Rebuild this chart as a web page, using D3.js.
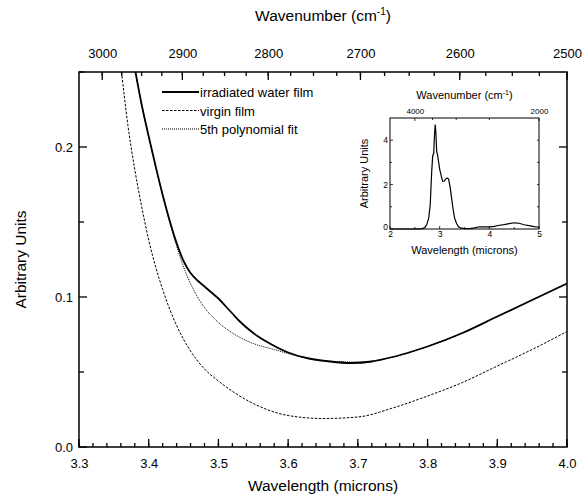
<!DOCTYPE html>
<html lang="en">
<head>
<meta charset="UTF-8">
<title>Irradiated water film</title>
<script src="https://cdn.jsdelivr.net/npm/d3@7"></script>
<style>
  body { margin: 0; background: #fff; }
  text { font-family: "Liberation Sans", Arial, sans-serif; fill: #000; }
</style>
</head>
<body>
<div id="container"></div>
<script>
  var width = 587, height = 500;

  // main chart data (wavelength in microns, arbitrary units)
  var irrX = [3.381, 3.39, 3.40, 3.41, 3.42, 3.43, 3.44, 3.45, 3.46, 3.47, 3.48, 3.49, 3.50, 3.51, 3.52, 3.53, 3.55, 3.57, 3.60, 3.63, 3.66, 3.69, 3.72, 3.75, 3.78, 3.80, 3.85, 3.90, 3.95, 4.0];
  var irrY = [0.25, 0.228, 0.207, 0.187, 0.168, 0.151, 0.136, 0.124, 0.116, 0.111, 0.107, 0.103, 0.099, 0.094, 0.089, 0.084, 0.076, 0.070, 0.063, 0.059, 0.057, 0.056, 0.057, 0.060, 0.064, 0.067, 0.076, 0.087, 0.098, 0.109];

  var virX = [3.361, 3.37, 3.38, 3.39, 3.40, 3.41, 3.42, 3.44, 3.46, 3.48, 3.50, 3.55, 3.60, 3.65, 3.70, 3.75, 3.80, 3.85, 3.90, 3.95, 4.0];
  var virY = [0.25, 0.215, 0.185, 0.160, 0.138, 0.120, 0.105, 0.081, 0.064, 0.052, 0.044, 0.029, 0.021, 0.019, 0.020, 0.026, 0.034, 0.043, 0.054, 0.065, 0.077];

  var fitX = [3.381, 3.39, 3.40, 3.41, 3.42, 3.43, 3.44, 3.45, 3.46, 3.47, 3.48, 3.50, 3.52, 3.55, 3.58, 3.61, 3.64, 3.67, 3.70, 3.75, 3.80, 3.85, 3.90, 3.95, 4.0];
  var fitY = [0.25, 0.228, 0.207, 0.187, 0.168, 0.150, 0.134, 0.120, 0.109, 0.100, 0.093, 0.083, 0.076, 0.069, 0.065, 0.061, 0.058, 0.057, 0.0565, 0.060, 0.067, 0.076, 0.087, 0.098, 0.109];

  var seriesNames = ["irradiated water film", "virgin film", "5th polynomial fit"];
  var xTicks = [3.3, 3.4, 3.5, 3.6, 3.7, 3.8, 3.9, 4.0];
  var yTicks = [0.0, 0.1, 0.2];
  var topTicks = [3000, 2900, 2800, 2700, 2600, 2500];

  // inset data (whole spectrum)
  var insX = [2.0, 2.5, 2.65, 2.7, 2.74, 2.78, 2.81, 2.84, 2.86, 2.88, 2.895, 2.91, 2.925, 2.94, 2.96, 2.98, 3.0, 3.03, 3.06, 3.09, 3.12, 3.15, 3.18, 3.21, 3.24, 3.27, 3.30, 3.34, 3.38, 3.42, 3.5, 3.6, 3.7, 3.8, 3.9, 4.0, 4.1, 4.2, 4.3, 4.4, 4.5, 4.6, 4.7, 4.8, 4.9, 5.0];
  var insY = [0, 0, 0.02, 0.06, 0.2, 0.5, 1.1, 2.6, 3.3, 3.4, 4.2, 4.7, 4.3, 3.5, 3.3, 3.0, 2.7, 2.4, 2.15, 2.15, 2.25, 2.3, 2.25, 1.9, 1.4, 0.9, 0.5, 0.25, 0.1, 0.05, 0.02, 0.02, 0.05, 0.1, 0.1, 0.1, 0.12, 0.17, 0.2, 0.24, 0.28, 0.26, 0.19, 0.15, 0.11, 0.08];
  var insXTicks = [2, 3, 4, 5];
  var insYTicks = [0, 2, 4];
  var insTopTicks = [4000, 2000];

  var svg = d3.select("#container").append("svg")
      .attr("width", width)
      .attr("height", height);

  var L = 79, R = 567, T = 72, B = 447;

  var x = d3.scaleLinear().domain([3.3, 4.0]).range([L, R]);
  var y = d3.scaleLinear().domain([0, 0.25]).range([B, T]);

  svg.append("clipPath").attr("id", "clip")
    .append("rect").attr("x", L).attr("y", T).attr("width", R - L).attr("height", B - T);

  // tick marks drawn as plain lines from the scales
  function hTicks(g, vals, scale, y0, len, sw) {
    g.selectAll(null).data(vals).enter().append("line")
      .attr("x1", d => scale(d)).attr("x2", d => scale(d))
      .attr("y1", y0).attr("y2", y0 + len)
      .attr("stroke", "#000").attr("stroke-width", sw);
  }
  function vTicks(g, vals, scale, x0, len, sw) {
    g.selectAll(null).data(vals).enter().append("line")
      .attr("y1", d => scale(d)).attr("y2", d => scale(d))
      .attr("x1", x0).attr("x2", x0 + len)
      .attr("stroke", "#000").attr("stroke-width", sw);
  }

  var ticksG = svg.append("g");
  var xMinor = d3.range(3.3, 4.0001, 0.02);
  hTicks(ticksG, xMinor, x, B, -4, 1.3);
  hTicks(ticksG, xTicks, x, B, -8, 1.3);
  vTicks(ticksG, [0.05, 0.15, 0.25], y, L, 5, 1.3);
  vTicks(ticksG, yTicks, y, L, 8, 1.3);
  vTicks(ticksG, [0.05, 0.15], y, R, -5, 1.3);
  vTicks(ticksG, [0.1, 0.2], y, R, -8, 1.3);
  var topMinor = d3.range(2500, 3001, 25).map(w => 10000 / w);
  hTicks(ticksG, topMinor, x, T, 4, 1.3);
  hTicks(ticksG, topTicks.map(w => 10000 / w), x, T, 8, 1.3);

  // tick labels via axes
  svg.append("g").attr("transform", "translate(0," + B + ")")
      .call(d3.axisBottom(x).tickValues(xTicks).tickSize(0).tickPadding(12).tickFormat(d3.format(".1f")))
      .call(g => g.select(".domain").remove())
      .call(g => g.selectAll("text").attr("font-size", 13));
  svg.append("g").attr("transform", "translate(" + L + ",0)")
      .call(d3.axisLeft(y).tickValues(yTicks).tickSize(0).tickPadding(6).tickFormat(d3.format(".1f")))
      .call(g => g.select(".domain").remove())
      .call(g => g.selectAll("text").attr("font-size", 13));
  svg.append("g").attr("transform", "translate(0," + T + ")")
      .call(d3.axisTop(x).tickValues(topTicks.map(w => 10000 / w)).tickSize(0).tickPadding(14)
        .tickFormat(d => Math.round(10000 / d)))
      .call(g => g.select(".domain").remove())
      .call(g => g.selectAll("text").attr("font-size", 13));

  svg.append("rect")
      .attr("x", L).attr("y", T).attr("width", R - L).attr("height", B - T)
      .attr("fill", "none").attr("stroke", "#000").attr("stroke-width", 1.5);

  // axis titles
  svg.append("text").attr("x", (L + R) / 2).attr("y", 491)
      .attr("text-anchor", "middle").attr("font-size", 15.5).text("Wavelength (microns)");
  svg.append("text").attr("transform", "translate(26," + ((T + B) / 2) + ") rotate(-90)")
      .attr("text-anchor", "middle").attr("font-size", 15.5).text("Arbitrary Units");
  var tt = svg.append("text").attr("x", (L + R) / 2).attr("y", 21)
      .attr("text-anchor", "middle").attr("font-size", 15.5);
  tt.append("tspan").text("Wavenumber (cm");
  tt.append("tspan").attr("font-size", 10).attr("dy", -6).text("-1");
  tt.append("tspan").attr("dy", 6).text(")");

  // curves
  var line = d3.line().x(d => x(d[0])).y(d => y(d[1])).curve(d3.curveMonotoneX);
  var plot = svg.append("g").attr("clip-path", "url(#clip)");
  plot.append("path").datum(d3.zip(virX, virY)).attr("d", line)
      .attr("fill", "none").attr("stroke", "#000").attr("stroke-width", 1).attr("stroke-dasharray", "2.5,1.5");
  plot.append("path").datum(d3.zip(fitX, fitY)).attr("d", line)
      .attr("fill", "none").attr("stroke", "#000").attr("stroke-width", 1).attr("stroke-dasharray", "1,1");
  plot.append("path").datum(d3.zip(irrX, irrY)).attr("d", line)
      .attr("fill", "none").attr("stroke", "#000").attr("stroke-width", 1.8);

  // legend
  var dashes = [null, "2.5,1.5", "1,1"];
  var widths = [1.8, 1, 1];
  var leg = svg.append("g").attr("transform", "translate(162,92)");
  seriesNames.forEach(function(n, i) {
    leg.append("line").attr("x1", 0).attr("x2", 37).attr("y1", i * 18.5).attr("y2", i * 18.5)
        .attr("stroke", "#000").attr("stroke-width", widths[i]).attr("stroke-dasharray", dashes[i]);
    leg.append("text").attr("x", 38).attr("y", i * 18.5 + 5).attr("font-size", 13).text(n);
  });

  // inset
  var iL = 390, iR = 539, iT = 118, iB = 229;
  var ix = d3.scaleLinear().domain([2, 5]).range([iL, iR]);
  var iy = d3.scaleLinear().domain([0, 5]).range([iB, iT]);
  var ins = svg.append("g");

  hTicks(ins, [2.5, 3.5, 4.5], ix, iB, -2, 0.8);
  hTicks(ins, insXTicks, ix, iB, -3, 0.8);
  vTicks(ins, [1, 3], iy, iL, 2, 0.8);
  vTicks(ins, insYTicks, iy, iL, 3, 0.8);
  vTicks(ins, [1, 2, 3, 4], iy, iR, -2, 0.8);
  hTicks(ins, [3500, 3000, 2500].map(w => 10000 / w), ix, iT, 2, 0.8);
  hTicks(ins, insTopTicks.map(w => 10000 / w), ix, iT, 3, 0.8);

  ins.append("g").attr("transform", "translate(0," + iB + ")")
      .call(d3.axisBottom(ix).tickValues(insXTicks).tickSize(0).tickPadding(2).tickFormat(d3.format("d")))
      .call(g => g.select(".domain").remove())
      .call(g => g.selectAll("text").attr("font-size", 8.5));
  ins.append("g").attr("transform", "translate(" + iL + ",0)")
      .call(d3.axisLeft(iy).tickValues(insYTicks).tickSize(0).tickPadding(2).tickFormat(d3.format("d")))
      .call(g => g.select(".domain").remove())
      .call(g => g.selectAll("text").attr("font-size", 8.5))
      .call(g => g.selectAll(".tick").filter(d => d === 0).select("text").attr("dy", "0.1em"));
  ins.append("g").attr("transform", "translate(0," + iT + ")")
      .call(d3.axisTop(ix).tickValues(insTopTicks.map(w => 10000 / w)).tickSize(0).tickPadding(4)
        .tickFormat(d => Math.round(10000 / d)))
      .call(g => g.select(".domain").remove())
      .call(g => g.selectAll("text").attr("font-size", 8));

  ins.append("rect").attr("x", iL).attr("y", iT).attr("width", iR - iL).attr("height", iB - iT)
      .attr("fill", "none").attr("stroke", "#000").attr("stroke-width", 1);

  ins.append("path").datum(d3.zip(insX, insY))
      .attr("d", d3.line().x(d => ix(d[0])).y(d => iy(d[1])))
      .attr("fill", "none").attr("stroke", "#000").attr("stroke-width", 1.2);

  ins.append("text").attr("x", (iL + iR) / 2).attr("y", 254)
      .attr("text-anchor", "middle").attr("font-size", 11).text("Wavelength (microns)");
  ins.append("text").attr("transform", "translate(368," + ((iT + iB) / 2) + ") rotate(-90)")
      .attr("text-anchor", "middle").attr("font-size", 11).text("Arbitrary Units");
  var it = ins.append("text").attr("x", (iL + iR) / 2).attr("y", 99)
      .attr("text-anchor", "middle").attr("font-size", 11);
  it.append("tspan").text("Wavenumber (cm");
  it.append("tspan").attr("font-size", 7).attr("dy", -4).text("-1");
  it.append("tspan").attr("dy", 4).text(")");
</script>
</body>
</html>
